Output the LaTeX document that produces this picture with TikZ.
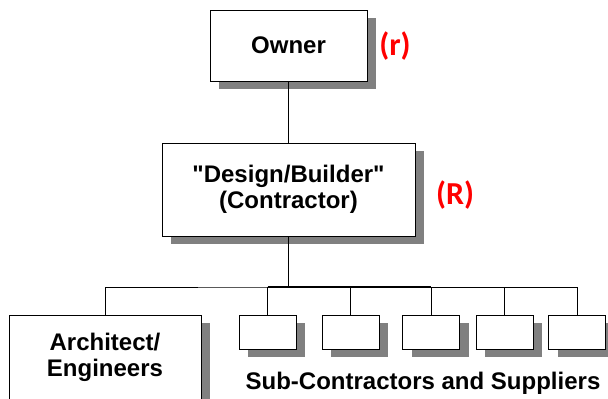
\documentclass[tikz,border=0pt]{standalone}
\usepackage{fontspec}
\setmainfont{Liberation Sans}[Ligatures=TeXOff]
\newfontfamily\tagfont{Carlito}
\usetikzlibrary{shadows}

\begin{document}
\begin{tikzpicture}[x=1pt, y=-1pt, line width=1pt,
  box/.style={draw=black, fill=white, inner sep=0pt, align=center,
    font=\fontsize{24}{26}\selectfont\bfseries,
    drop shadow={shadow xshift=9pt, shadow yshift=-8pt, fill=black!50, opacity=1}},
  tag/.style={text=red, font=\tagfont\fontsize{32}{34}\selectfont\bfseries},
  trunk/.style={line width=1.6pt}]

  \useasboundingbox (0,0) rectangle (608,399);

  % Owner and design/builder
  \node[box, minimum width=157pt, minimum height=71pt] (owner) at (288.5,45.5) {Owner};
  \node[box, minimum width=253pt, minimum height=93pt] (design) at (288.5,189.5)
    {\raisebox{-2pt}{"Design/Builder"}\\\raisebox{-2pt}{(Contractor)}};

  \node[tag] (r) at (395,46) {(r)};
  \node[tag] (R) at (455,195) {(R)};

  % Lower row
  \node[box, minimum width=192pt, minimum height=84pt] (arch) at (105,357)
    {\raisebox{-2pt}{Architect/}\\\raisebox{-2pt}{Engineers}};

  \foreach \i/\x in {1/267.5, 2/350.5, 3/431, 4/504.5, 5/577}
    \node[box, minimum width=57pt, minimum height=34pt] (sub\i) at (\x,332) {};

  \node[anchor=base, font=\fontsize{24}{26}\selectfont\bfseries] (subs) at (423,389)
    {Sub-Contractors and Suppliers};

  % Connectors
  \coordinate (hub) at (288.5,287);
  \draw (owner) -- (design);
  \draw[trunk] (design) -- (hub);
  \draw (arch.north) |- (hub) -| (sub5.north);
  \foreach \i in {1,...,4}
    \draw (sub\i.north) -- (sub\i.north |- hub);
  \draw[trunk] (sub1.north |- hub) -- (sub3.north |- hub);
\end{tikzpicture}
\end{document}
